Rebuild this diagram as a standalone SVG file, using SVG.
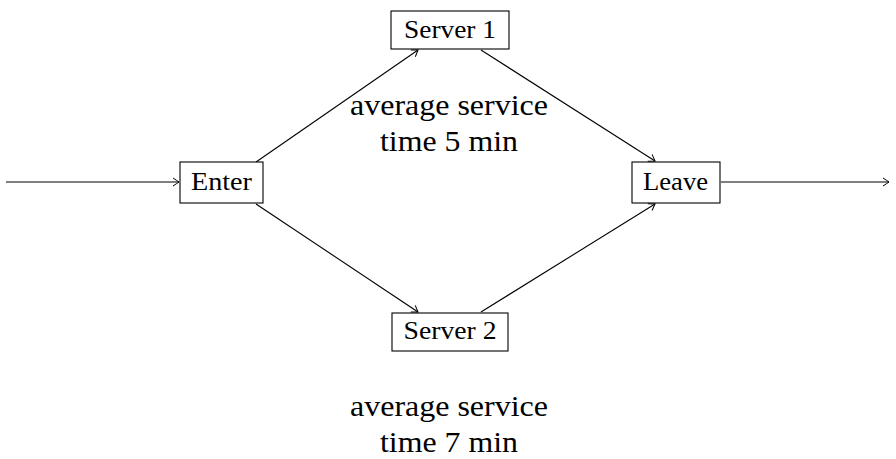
<svg xmlns="http://www.w3.org/2000/svg" width="896" height="459" viewBox="0 0 896 459">
<style>
.box{fill:#fff;stroke:#000;stroke-width:1.1}
.lbl{font-family:"Liberation Serif","DejaVu Serif",serif;font-size:25px;fill:#000;text-anchor:middle}
.note{font-family:"Liberation Serif","DejaVu Serif",serif;font-size:30px;fill:#000;text-anchor:middle}
.edge{fill:none;stroke:#000;stroke-width:1.1;marker-end:url(#to)}
</style>
<defs>
<marker id="to" viewBox="-8 -5 10 10" refX="0" refY="0" markerWidth="10" markerHeight="10" markerUnits="userSpaceOnUse" orient="auto">
<path d="M-6,-4 Q-1.5,-1 0,0 Q-1.5,1 -6,4" fill="none" stroke="#000" stroke-width="1"/>
</marker>
</defs>
<g id="connectors">
<path class="edge" d="M6,182 L179,182"/>
<path class="edge" d="M721,182 L889,182"/>
<path class="edge" d="M256,162 L418,50"/>
<path class="edge" d="M481,50 L655,161"/>
<path class="edge" d="M256,204 L418,312"/>
<path class="edge" d="M481,312 L655,204"/>
</g>
<g id="server1">
<rect class="box" x="391" y="11" width="118" height="38"/>
<text class="lbl" x="450" y="38" textLength="92" lengthAdjust="spacingAndGlyphs">Server 1</text>
</g>
<g id="enter">
<rect class="box" x="180" y="162" width="83" height="41"/>
<text class="lbl" x="221.5" y="190" textLength="61" lengthAdjust="spacingAndGlyphs">Enter</text>
</g>
<g id="leave">
<rect class="box" x="632" y="162" width="88" height="41"/>
<text class="lbl" x="675.5" y="190" textLength="65" lengthAdjust="spacingAndGlyphs">Leave</text>
</g>
<g id="server2">
<rect class="box" x="392" y="313" width="116" height="38"/>
<text class="lbl" x="450" y="339" textLength="93" lengthAdjust="spacingAndGlyphs">Server 2</text>
</g>
<g id="notes">
<text class="note" x="449" y="115" textLength="198" lengthAdjust="spacingAndGlyphs">average service</text>
<text class="note" x="449" y="151" textLength="138" lengthAdjust="spacingAndGlyphs">time 5 min</text>
<text class="note" x="449" y="416" textLength="198" lengthAdjust="spacingAndGlyphs">average service</text>
<text class="note" x="449" y="452" textLength="138" lengthAdjust="spacingAndGlyphs">time 7 min</text>
</g>
</svg>
